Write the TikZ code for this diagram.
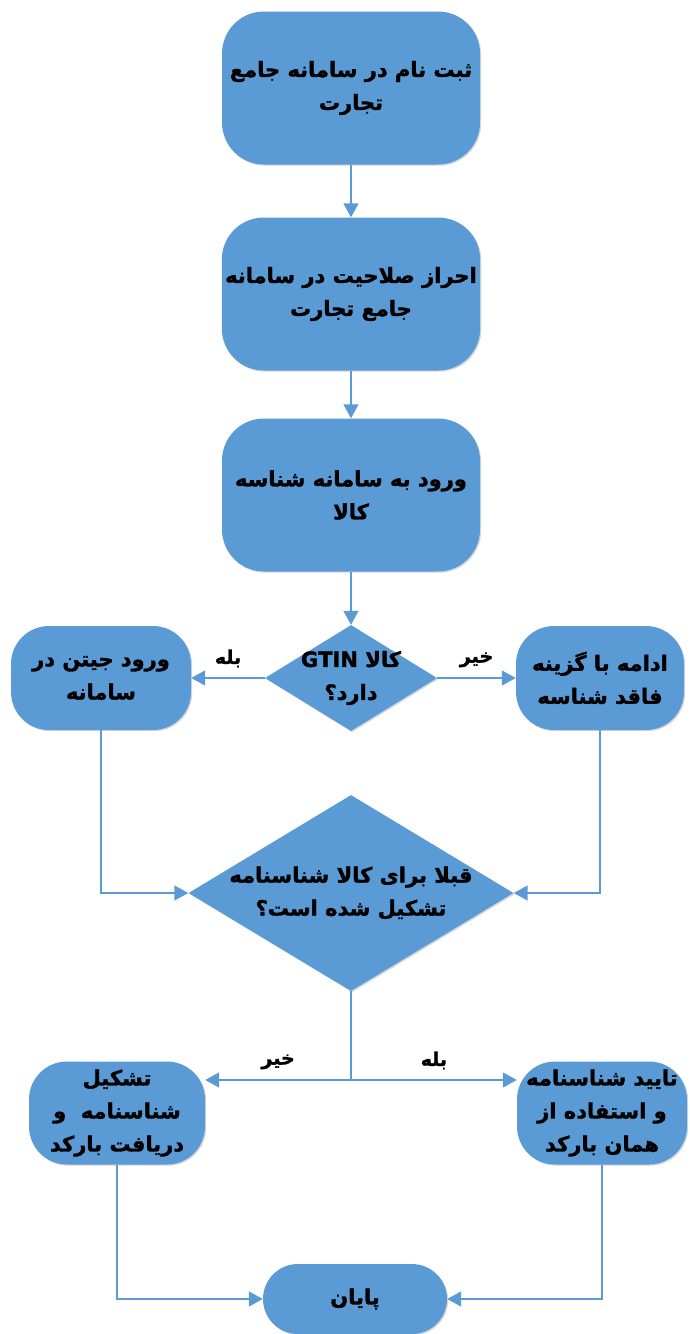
\documentclass[tikz,border=0pt]{standalone}
\usepackage{fontspec}
\usetikzlibrary{shapes.geometric,arrows.meta,shadows}
\newfontfamily\arabicfont[Script=Arabic, BoldFeatures={FakeBold=1.5}]{DejaVu Sans}
\TeXXeTstate=1
\newcommand{\fa}[1]{\beginR #1\endR}
\definecolor{boxblue}{HTML}{5B9BD5}

\begin{document}
\begin{tikzpicture}[x=1pt,y=-1pt,
    every node/.style={font=\arabicfont\bfseries\fontsize{21}{33}\selectfont, align=center},
    softshadow/.style={drop shadow={shadow xshift=1.2pt, shadow yshift=-1.2pt, opacity=0.35, fill=black!45}},
    procbox/.style={fill=boxblue, rounded corners=42pt, minimum width=258pt, minimum height=153pt, softshadow},
    sidebox/.style={procbox, rounded corners=38pt, minimum width=180pt, minimum height=104pt},
    decision/.style={diamond, fill=boxblue, inner sep=0pt, softshadow},
    flow/.style={draw=boxblue, line width=1.5pt, -{Triangle[width=15pt,length=14pt]}},
    tag/.style={font=\arabicfont\bfseries\fontsize{19}{22}\selectfont, inner sep=2pt, yshift=8pt}]
  \useasboundingbox (0,0) rectangle (689,1334);

  % main column
  \node[procbox] (register) at (351,88) {\fa{ثبت نام در سامانه جامع}\\\fa{تجارت}};
  \node[procbox] (verify) at (351,294) {\fa{احراز صلاحیت در سامانه}\\\fa{جامع تجارت}};
  \node[procbox] (login) at (351,495) {\fa{ورود به سامانه شناسه}\\\fa{کالا}};

  % first question
  \node[decision, minimum width=172pt, minimum height=106pt] (hasgtin) at (351,678) {};
  \node (hasgtintxt) at (hasgtin) {\fa{کالا \beginL GTIN\endL}\\\fa{دارد؟}};
  \node[sidebox] (entergtin) at (101,678) {\fa{ورود جیتن در}\\\fa{سامانه}};
  \node[sidebox, minimum width=168pt] (noid) at (600,678) {\fa{ادامه با گزینه}\\\fa{فاقد شناسه}};

  % second question
  \node[decision, minimum width=325pt, minimum height=196pt] (exists) at (351,893) {};
  \node (existstxt) at (exists) {\fa{قبلا برای کالا شناسنامه}\\\fa{تشکیل شده است؟}};
  \coordinate (split) at (351,1080);
  \node[sidebox, minimum width=176pt, minimum height=103pt] (create) at (117,1113)
    {\fa{تشکیل}\\\fa{شناسنامه\ \ و}\\\fa{دریافت بارکد}};
  \node[sidebox, minimum width=170pt, minimum height=103pt] (confirm) at (602,1113)
    {\fa{تایید شناسنامه}\\\fa{و استفاده از}\\\fa{همان بارکد}};

  % end
  \node[procbox, rounded corners=35pt, minimum width=184pt, minimum height=70pt] (finish) at (355,1299) {\fa{پایان}};

  % connectors
  \draw[flow] (register) -- (verify);
  \draw[flow] (verify) -- (login);
  \draw[flow] (login) -- (hasgtin);
  \draw[flow] (hasgtin.west) -- node[tag, above] {\fa{بله}} (entergtin.east);
  \draw[flow] (hasgtin.east) -- node[tag, above] {\fa{خیر}} (noid.west);
  \draw[flow] (entergtin.south) |- (exists.west);
  \draw[flow] (noid.south) |- (exists.east);
  \draw[draw=boxblue, line width=1.5pt] (exists.south) -- (split);
  \draw[flow] (split) -- node[tag, above] {\fa{خیر}} (split -| create.east);
  \draw[flow] (split) -- node[tag, above] {\fa{بله}} (split -| confirm.west);
  \draw[flow] (create.south) |- (finish.west);
  \draw[flow] (confirm.south) |- (finish.east);
\end{tikzpicture}
\end{document}
